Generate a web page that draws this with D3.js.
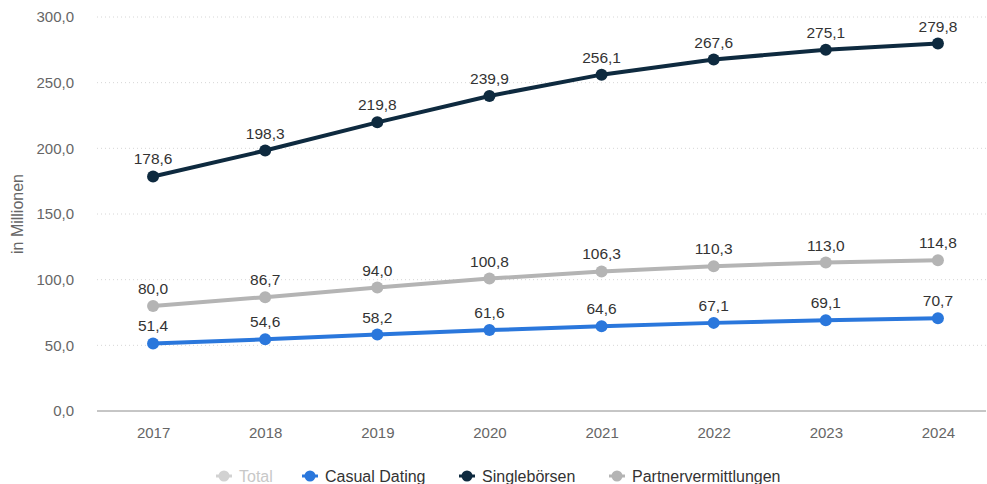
<!DOCTYPE html>
<html>
<head>
<meta charset="utf-8">
<script src="https://cdn.jsdelivr.net/npm/d3@7"></script>
<style>
  body { margin: 0; background: #fff; }
  text { font-family: "Liberation Sans", Arial, sans-serif; }
</style>
</head>
<body>
<div id="chart"></div>
<script>
const years = ["2017", "2018", "2019", "2020", "2021", "2022", "2023", "2024"];
const singleboersen = [178.6, 198.3, 219.8, 239.9, 256.1, 267.6, 275.1, 279.8];
const partnervermittlungen = [80.0, 86.7, 94.0, 100.8, 106.3, 110.3, 113.0, 114.8];
const casualDating = [51.4, 54.6, 58.2, 61.6, 64.6, 67.1, 69.1, 70.7];
const yTicks = [0, 50, 100, 150, 200, 250, 300];
const legendNames = ["Total", "Casual Dating", "Singlebörsen", "Partnervermittlungen"];

const width = 987, height = 484;

const svg = d3.select("#chart").append("svg")
  .attr("width", width)
  .attr("height", height);

const x = d3.scalePoint().domain(years).range([97, 994]).padding(0.5);
const y = d3.scaleLinear().domain([0, 300]).range([411, 17]);

const fmt = v => v.toFixed(1).replace(".", ",");

// grid
svg.append("g").selectAll("line")
  .data(yTicks.filter(d => d > 0))
  .enter().append("line")
  .attr("x1", 97).attr("x2", 986)
  .attr("y1", d => y(d)).attr("y2", d => y(d))
  .attr("stroke", "#d6d6d6")
  .attr("stroke-dasharray", "1,3");

svg.append("line")
  .attr("x1", 97).attr("x2", 986)
  .attr("y1", y(0)).attr("y2", y(0))
  .attr("stroke", "#8c8c8c");

// y axis labels
const yAxis = svg.append("g")
  .attr("transform", "translate(77,0)")
  .call(d3.axisLeft(y).tickValues(yTicks).tickFormat(fmt).tickSize(0));
yAxis.select(".domain").remove();
yAxis.selectAll("text")
  .attr("font-size", 15).attr("fill", "#666")
  .style("font-family", "'Liberation Sans', Arial, sans-serif");

// x axis labels
const xAxis = svg.append("g")
  .attr("transform", "translate(0," + (y(0) + 13) + ")")
  .call(d3.axisBottom(x).tickSize(0));
xAxis.select(".domain").remove();
xAxis.selectAll("text")
  .attr("font-size", 15).attr("fill", "#666")
  .style("font-family", "'Liberation Sans', Arial, sans-serif");

svg.append("text")
  .attr("transform", "translate(23," + y(150) + ") rotate(-90)")
  .attr("text-anchor", "middle")
  .attr("font-size", 16).attr("fill", "#666")
  .text("in Millionen");

const series = [
  { values: partnervermittlungen, color: "#b4b4b4" },
  { values: casualDating, color: "#2a77dc" },
  { values: singleboersen, color: "#0e2a3f" }
];

const line = d3.line()
  .x((d, i) => x(years[i]))
  .y(d => y(d));

series.forEach(s => {
  const g = svg.append("g");
  g.append("path")
    .datum(s.values)
    .attr("d", line)
    .attr("fill", "none")
    .attr("stroke", s.color)
    .attr("stroke-width", 4);
  g.selectAll("circle")
    .data(s.values)
    .enter().append("circle")
    .attr("cx", (d, i) => x(years[i]))
    .attr("cy", d => y(d))
    .attr("r", 6)
    .attr("fill", s.color);
  g.selectAll("text.lbl")
    .data(s.values)
    .enter().append("text")
    .attr("class", "lbl")
    .attr("x", (d, i) => x(years[i]))
    .attr("y", d => y(d) - 12)
    .attr("text-anchor", "middle")
    .attr("font-size", 15.5)
    .attr("fill", "#333")
    .text(fmt);
});

// legend
const legendColors = ["#d2d2d2", "#2a77dc", "#0e2a3f", "#b4b4b4"];
const legendX = [224, 310, 467, 617];
const legend = svg.append("g").attr("transform", "translate(0,476)");
legendNames.forEach((name, i) => {
  const g = legend.append("g").attr("transform", "translate(" + legendX[i] + ",0)");
  g.append("line").attr("x1", -8).attr("x2", 8).attr("y1", 0).attr("y2", 0)
    .attr("stroke", legendColors[i]).attr("stroke-width", 3);
  g.append("circle").attr("r", 5.5).attr("fill", legendColors[i]);
  g.append("text").attr("x", 15).attr("y", 6)
    .attr("font-size", 16)
    .attr("fill", i === 0 ? "#c8c8c8" : "#333")
    .text(name);
});
</script>
</body>
</html>
